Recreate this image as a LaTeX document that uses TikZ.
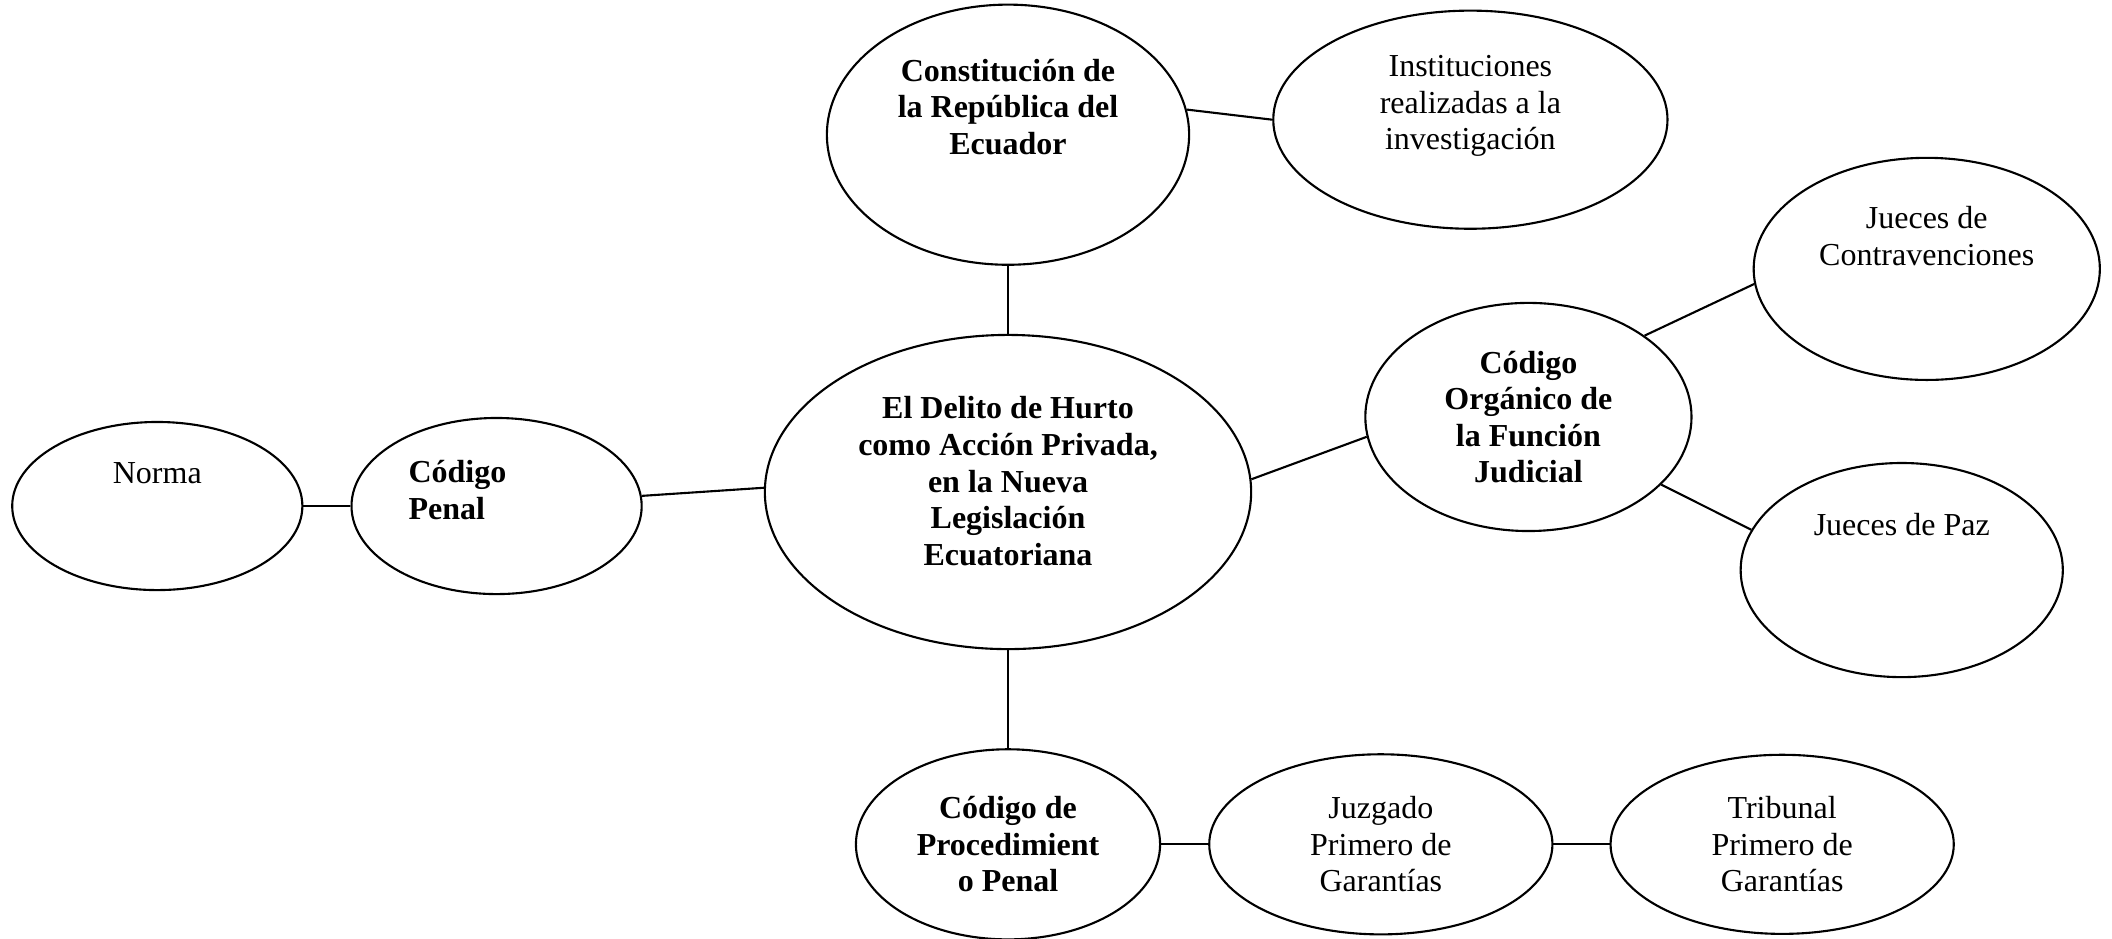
\documentclass[tikz,border=0pt]{standalone}
\usepackage{fontspec}
\setmainfont{Liberation Serif}
\usepackage{tikz}
\usetikzlibrary{shapes.geometric}
\usetikzlibrary{positioning}
\tikzstyle{idea} = [ellipse, draw=black, line width=0.6pt, inner sep=0pt, align=center, font=\fontsize{9.1}{10.4}\selectfont]
\tikzstyle{keyidea} = [idea, font=\fontsize{9.1}{10.4}\selectfont\bfseries]
\tikzstyle{link} = [line width=0.6pt]
\newcommand{\liftby}[1]{\rule[-#1]{0pt}{#1}}

\begin{document}
\begin{tikzpicture}[x=0.01cm, y=-0.01cm,
smallnode/.style={minimum width=2.9cm, minimum height=1.72cm},
bottomnode/.style={minimum width=3.43cm, minimum height=1.79cm},
]
\useasboundingbox (0,0) rectangle (2112,938);
%Nodes
\node[keyidea, minimum width=4.86cm, minimum height=3.14cm] (delito) at (1008,492) {El Delito de Hurto\\como Acción Privada,\\en la Nueva\\Legislación\\Ecuatoriana\liftby{0.22cm}};
\node[keyidea, smallnode, minimum height=1.76cm, text width=1.76cm, align=left] (codpenal) [left=1.21cm of delito, yshift=-0.14cm] {Código\\Penal\liftby{0.32cm}};
\node[idea, smallnode, minimum height=1.68cm] (norma) [left=0.47cm of codpenal] {Norma\liftby{0.66cm}};
\node[keyidea, minimum width=3.62cm, minimum height=2.6cm] (constitucion) [above=0.68cm of delito] {Constitución de\\la República del\\Ecuador\liftby{0.56cm}};
\node[idea, minimum width=3.94cm, minimum height=2.18cm] (instituciones) [right=0.82cm of constitucion, yshift=0.15cm] {Instituciones\\realizadas a la\\investigación\liftby{0.34cm}};
\node[keyidea, minimum width=3.26cm, minimum height=2.28cm] (codorganico) [right=1.12cm of delito, yshift=0.75cm] {Código\\Orgánico de\\la Función\\Judicial};
\node[idea, minimum width=3.46cm, minimum height=2.22cm] (juecescontra) [right=0.6cm of codorganico, yshift=1.48cm] {Jueces de\\Contravenciones\liftby{0.66cm}};
\node[idea, minimum width=3.22cm, minimum height=2.14cm] (juecespaz) [right=0.47cm of codorganico, yshift=-1.53cm] {Jueces de Paz\liftby{0.92cm}};
\node[keyidea, minimum width=3.04cm, minimum height=1.9cm] (codproc) [below=0.98cm of delito] {Código de\\Procedimient\\o Penal};
\node[idea, bottomnode, minimum height=1.8cm] (juzgado) [right=0.47cm of codproc] {Juzgado\\Primero de\\Garantías};
\node[idea, bottomnode] (tribunal) [right=0.56cm of juzgado] {Tribunal\\Primero de\\Garantías};

%Lines
\draw[link] (norma.east) -- (codpenal.west);
\draw[link] (codpenal.4) -- (delito.179);
\draw[link] (delito.north) -- (constitucion.south);
\draw[link] (constitucion.8) -- (instituciones.west);
\draw[link] (delito.3) -- (codorganico.187);
\draw[link] (codorganico.35) -- (juecescontra.185);
\draw[link] (codorganico.-27) -- (juecespaz.165);
\draw[link] (delito.south) -- (codproc.north);
\draw[link] (codproc.east) -- (juzgado.west);
\draw[link] (juzgado.east) -- (tribunal.west);

\end{tikzpicture}
\end{document}
